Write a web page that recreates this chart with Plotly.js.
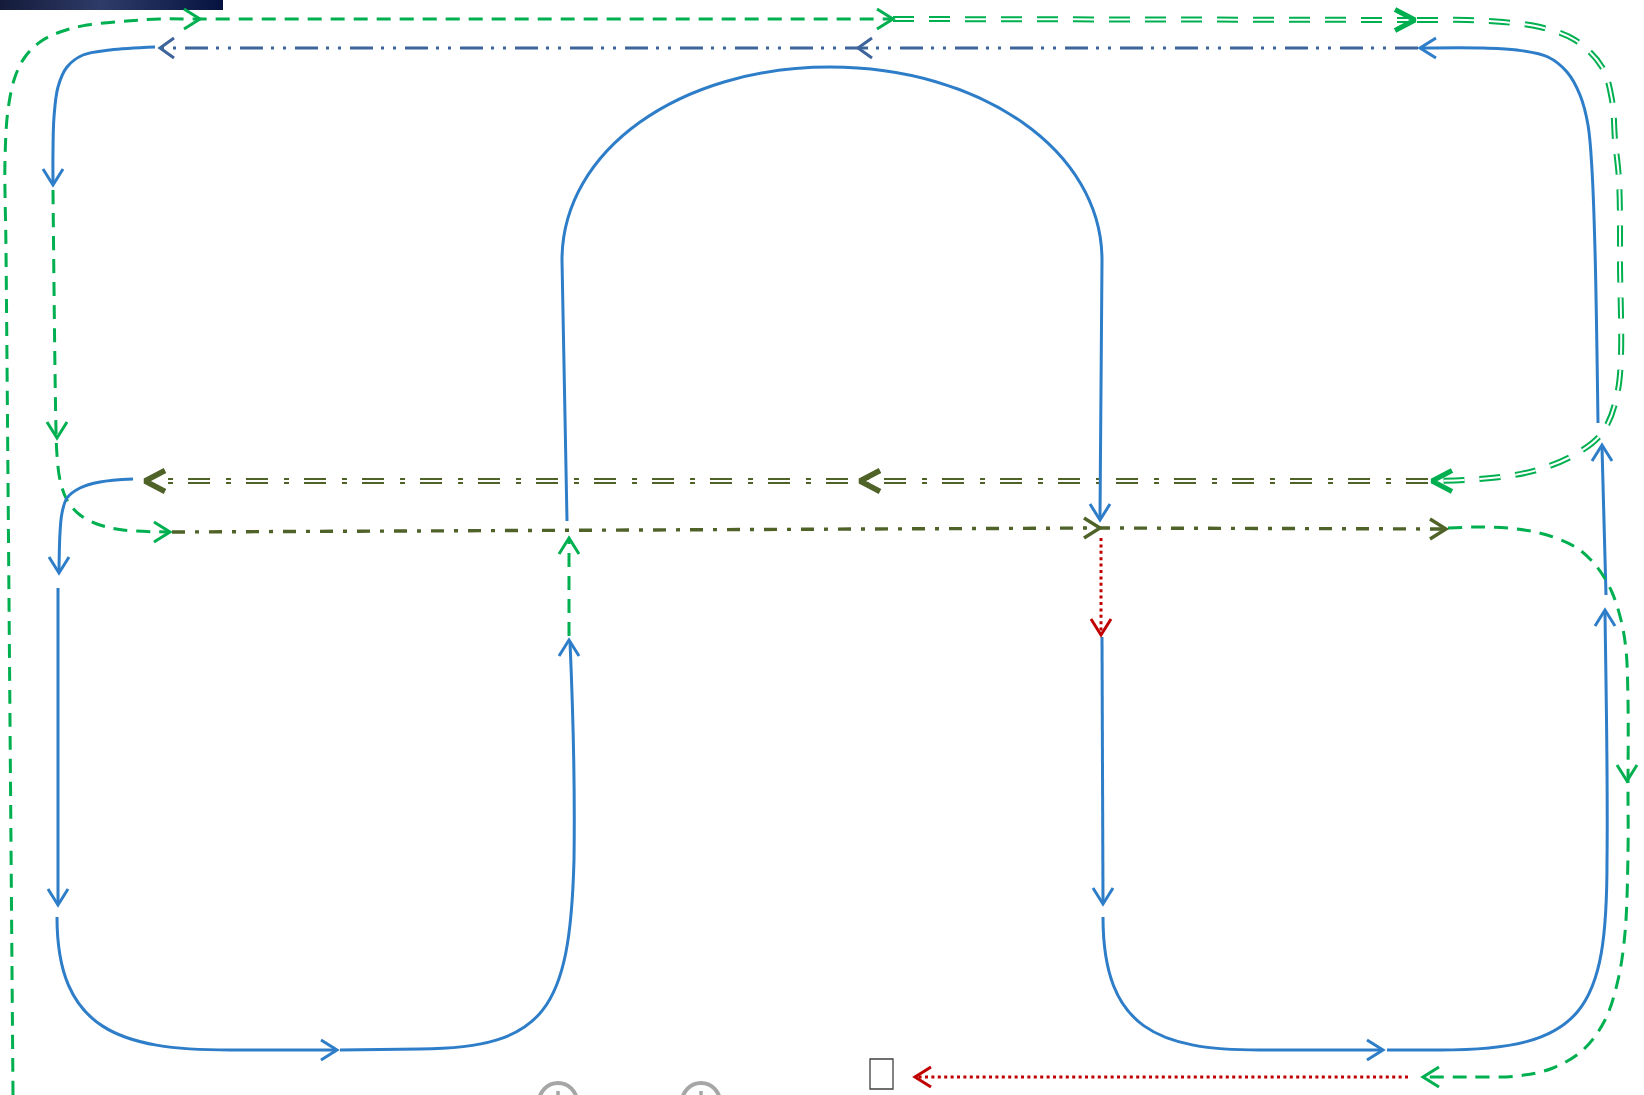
<!DOCTYPE html>
<html><head><meta charset="utf-8">
<script src="https://cdn.plot.ly/plotly-3.0.1.min.js"></script>
<style>html,body{margin:0;padding:0;background:#fff;overflow:hidden}#chart{width:1644px;height:1095px}</style>
</head><body><div id="chart"></div>
<script>
// ---------- diagram data (pixel coordinates) ----------
const greenOuterX = [13, 9, 6, 5, 8, 15, 25, 40, 60, 87, 127, 160, 198, 891];
const greenOuterY = [1095, 600, 250, 160, 110, 77, 57, 42, 32, 25, 21, 19, 19, 19];

const greenDoubleTopX = [893, 1413];
const greenDoubleTopY = [19, 20];

const greenDoubleRightX = [1417, 1430, 1467, 1503, 1540, 1575, 1602, 1612, 1615, 1619, 1620, 1618, 1602, 1574, 1537, 1501, 1464, 1434];
const greenDoubleRightY = [20, 20, 20, 22, 27, 40, 67, 100, 140, 180, 260, 390, 433, 455, 470, 477, 480, 481];

const oliveDoubleX = [1428, 147];
const oliveDoubleY = [481, 481];

const steelX = [1418, 158];
const steelY = [48, 48];

const blueTopLeftX = [155, 110, 83, 67, 58, 54, 53, 53];
const blueTopLeftY = [47, 50, 55, 67, 87, 117, 150, 183];

const greenLeftX = [53, 56, 57, 60, 67, 80, 100, 123, 168];
const greenLeftY = [190, 430, 455, 480, 500, 515, 525, 530, 532];

const blueLeftCurveX = [133, 100, 80, 67, 62, 60, 59];
const blueLeftCurveY = [479, 482, 488, 498, 513, 533, 571];

const blueLeftDownX = [58, 58];
const blueLeftDownY = [588, 903];

// curved blue connectors: nodes, plus Bezier handles per segment (null = straight segment)
const bottomLeftNodeX = [57, 230, 335];
const bottomLeftNodeY = [917, 1050, 1050];
const bottomLeftHandleX = [[57, 120], null];
const bottomLeftHandleY = [[1030, 1050], null];

const upMidNodeX = [340, 420, 574, 570];
const upMidNodeY = [1050, 1049, 860, 642];
const upMidHandleX = [null, [545, 570], [575, 573]];
const upMidHandleY = [null, [1048, 1010], [790, 710]];

const archNodeX = [567, 562, 830, 1102, 1100];
const archNodeY = [521, 260, 67, 260, 518];
const archHandleX = [null, [562, 680], [980, 1102], null];
const archHandleY = [null, [150, 67], [67, 150], null];

const bottomRightNodeX = [1103, 1260, 1381];
const bottomRightNodeY = [917, 1050, 1050];
const bottomRightHandleX = [[1103, 1160], null];
const bottomRightHandleY = [[1030, 1050], null];

const rightUpNodeX = [1387, 1440, 1607, 1605];
const rightUpNodeY = [1050, 1050, 860, 612];
const rightUpHandleX = [null, [1585, 1607], [1608, 1606]];
const rightUpHandleY = [null, [1050, 1010], [780, 690]];

const greenMidUpX = [569, 569];
const greenMidUpY = [636, 541];

const oliveSingleX = [172, 1100, 1444];
const oliveSingleY = [532, 528, 529];

const redDownX = [1101, 1101];
const redDownY = [538, 632];

const blueRightDownX = [1102, 1103];
const blueRightDownY = [637, 902];

const blueRightMidX = [1606, 1602];
const blueRightMidY = [595, 447];

const blueRightTopX = [1598, 1595, 1592, 1588, 1580, 1567, 1548, 1517, 1483, 1422];
const blueRightTopY = [423, 250, 170, 125, 95, 72, 57, 50, 48, 48];

const greenRightX = [1448, 1484, 1517, 1547, 1577, 1597, 1611, 1621, 1626, 1628, 1628, 1628, 1625, 1618, 1605, 1583, 1553, 1517, 1467, 1425];
const greenRightY = [528, 527, 529, 535, 548, 567, 590, 620, 650, 700, 790, 853, 933, 980, 1020, 1050, 1068, 1076, 1077, 1077];

const redBottomX = [1408, 917];
const redBottomY = [1077, 1077];

// arrow heads
const arrowTipX = [200, 893, 1415, 1420, 858, 160, 53, 57, 145, 860, 1432, 59, 58, 337, 569, 569, 170, 1100, 1100, 1101, 1103, 1383, 1605, 1602, 1446, 1627, 1423, 915];
const arrowTipY = [19, 19, 20, 48, 48, 48, 185, 438, 481, 481, 481, 573, 905, 1050, 640, 538, 532, 528, 520, 635, 904, 1050, 610, 445, 529, 781, 1077, 1077];
const arrowDir = ['r','r','r','l','l','l','d','d','l','l','l','d','d','r','u','u','r','r','d','d','d','r','u','u','r','d','l','l'];
const arrowKind = ['green','green','greenBold','blue','steel','steel','blue','green','oliveBold','oliveBold','greenBold','blue','blue','blue','blue','green','green','olive','blue','red','blue','blue','blue','blue','olive','green','green','red'];

// ---------- styles ----------
const C = {blue:'#2e7dc8', steel:'#3e659b', green:'#00b050', olive:'#4f6228', red:'#c00000'};
const S = {
  blue:   {color:C.blue, width:3, dash:'solid'},
  green:  {color:C.green, width:3, dash:'14px,9px'},
  steel:  {color:C.steel, width:3.2, dash:'23px,9px,3px,9px,3px,8px'},
  olive:  {color:C.olive, width:3.4, dash:'13px,10px,4px,10px'},
  red:    {color:C.red, width:3, dash:'3px,3.4px'}
};
const headStyle = {
  blue:{color:C.blue,w:3,L:16,H:10}, steel:{color:C.steel,w:3,L:14,H:10},
  green:{color:C.green,w:3,L:16,H:10}, olive:{color:C.olive,w:3.4,L:16,H:10},
  red:{color:C.red,w:3,L:16,H:10},
  greenBold:{color:C.green,w:5,L:20,H:10.5}, oliveBold:{color:C.olive,w:5.5,L:20,H:10.5}
};

const traces = [];
function line(x, y, st, shape) {
  traces.push({type:'scatter', mode:'lines', x:x, y:y, hoverinfo:'skip', showlegend:false,
    line:{color:st.color, width:st.width, dash:st.dash, shape:shape || 'spline', smoothing:1}});
}
function doubleLine(x, y, color, dash, shape) {
  line(x, y, {color:color, width:6, dash:dash}, shape);
  line(x, y, {color:'#ffffff', width:2, dash:dash}, shape);
}
// path string (data coordinates) from nodes and per-segment handles
function pathOf(nx, ny, hx, hy) {
  let p = 'M' + nx[0] + ',' + ny[0];
  for (let i = 1; i < nx.length; i++) {
    const h = hx[i - 1], k = hy[i - 1];
    if (h) p += ' C' + h[0] + ',' + k[0] + ' ' + h[1] + ',' + k[1] + ' ' + nx[i] + ',' + ny[i];
    else p += ' L' + nx[i] + ',' + ny[i];
  }
  return p;
}

// dark bar in top-left corner
traces.push({type:'scatter', mode:'lines', x:[0,223,223,0,0], y:[0,0,10,10,0], fill:'toself',
  line:{width:0, color:'rgba(0,0,0,0)'}, hoverinfo:'skip', showlegend:false,
  fillgradient:{type:'horizontal', colorscale:[[0,'#141b3a'],[0.45,'#2f3b68'],[1,'#061341']]}});

line(greenOuterX, greenOuterY, S.green);
doubleLine(greenDoubleTopX, greenDoubleTopY, C.green, '21px,15px', 'linear');
doubleLine(greenDoubleRightX, greenDoubleRightY, C.green, '21px,15px', 'spline');
doubleLine(oliveDoubleX, oliveDoubleY, C.olive, '22px,15px,5px,16px', 'linear');
line(steelX, steelY, S.steel, 'linear');
line(blueTopLeftX, blueTopLeftY, S.blue);
line(greenLeftX, greenLeftY, S.green);
line(blueLeftCurveX, blueLeftCurveY, S.blue);
line(blueLeftDownX, blueLeftDownY, S.blue, 'linear');
line(greenMidUpX, greenMidUpY, S.green, 'linear');
line(oliveSingleX, oliveSingleY, S.olive, 'linear');
line(redDownX, redDownY, S.red, 'linear');
line(blueRightDownX, blueRightDownY, S.blue, 'linear');
line(blueRightMidX, blueRightMidY, S.blue, 'linear');
line(blueRightTopX, blueRightTopY, S.blue);
line(greenRightX, greenRightY, S.green);
line(redBottomX, redBottomY, S.red, 'linear');

// chevron arrow heads
const dirVec = {r:[1,0], l:[-1,0], u:[0,-1], d:[0,1]};
for (let i = 0; i < arrowTipX.length; i++) {
  const hs = headStyle[arrowKind[i]];
  const d = dirVec[arrowDir[i]];
  const n = [-d[1], d[0]];
  const tx = arrowTipX[i], ty = arrowTipY[i];
  traces.push({type:'scatter', mode:'lines', hoverinfo:'skip', showlegend:false,
    x:[tx - hs.L*d[0] + hs.H*n[0], tx, tx - hs.L*d[0] - hs.H*n[0]],
    y:[ty - hs.L*d[1] + hs.H*n[1], ty, ty - hs.L*d[1] - hs.H*n[1]],
    line:{color:hs.color, width:hs.w, shape:'linear'}});
}

const bluePaths = [
  pathOf(bottomLeftNodeX, bottomLeftNodeY, bottomLeftHandleX, bottomLeftHandleY),
  pathOf(upMidNodeX, upMidNodeY, upMidHandleX, upMidHandleY),
  pathOf(archNodeX, archNodeY, archHandleX, archHandleY),
  pathOf(bottomRightNodeX, bottomRightNodeY, bottomRightHandleX, bottomRightHandleY),
  pathOf(rightUpNodeX, rightUpNodeY, rightUpHandleX, rightUpHandleY)
];

const shapes = bluePaths.map(p => ({type:'path', xref:'x', yref:'y', path:p,
  line:{color:C.blue, width:3}, fillcolor:'rgba(0,0,0,0)'}));
shapes.push(
  {type:'rect', xref:'x', yref:'y', x0:870, x1:893, y0:1059, y1:1089, line:{color:'#404040', width:1.3}, fillcolor:'#ffffff'},
  {type:'circle', xref:'x', yref:'y', x0:539, x1:577, y0:1083, y1:1121, line:{color:'#a6a6a6', width:4}},
  {type:'line', xref:'x', yref:'y', x0:558, x1:558, y0:1091, y1:1096, line:{color:'#a6a6a6', width:3.5}},
  {type:'circle', xref:'x', yref:'y', x0:682, x1:720, y0:1083, y1:1121, line:{color:'#a6a6a6', width:4}},
  {type:'line', xref:'x', yref:'y', x0:701, x1:701, y0:1091, y1:1096, line:{color:'#a6a6a6', width:3.5}}
);

const layout = {
  width:1644, height:1095, margin:{l:0,r:0,t:0,b:0,pad:0},
  paper_bgcolor:'#ffffff', plot_bgcolor:'#ffffff', showlegend:false,
  xaxis:{range:[0,1644], visible:false, fixedrange:true},
  yaxis:{range:[1095,0], visible:false, fixedrange:true},
  shapes:shapes
};
Plotly.newPlot('chart', traces, layout, {staticPlot:true, displayModeBar:false});
</script></body></html>
